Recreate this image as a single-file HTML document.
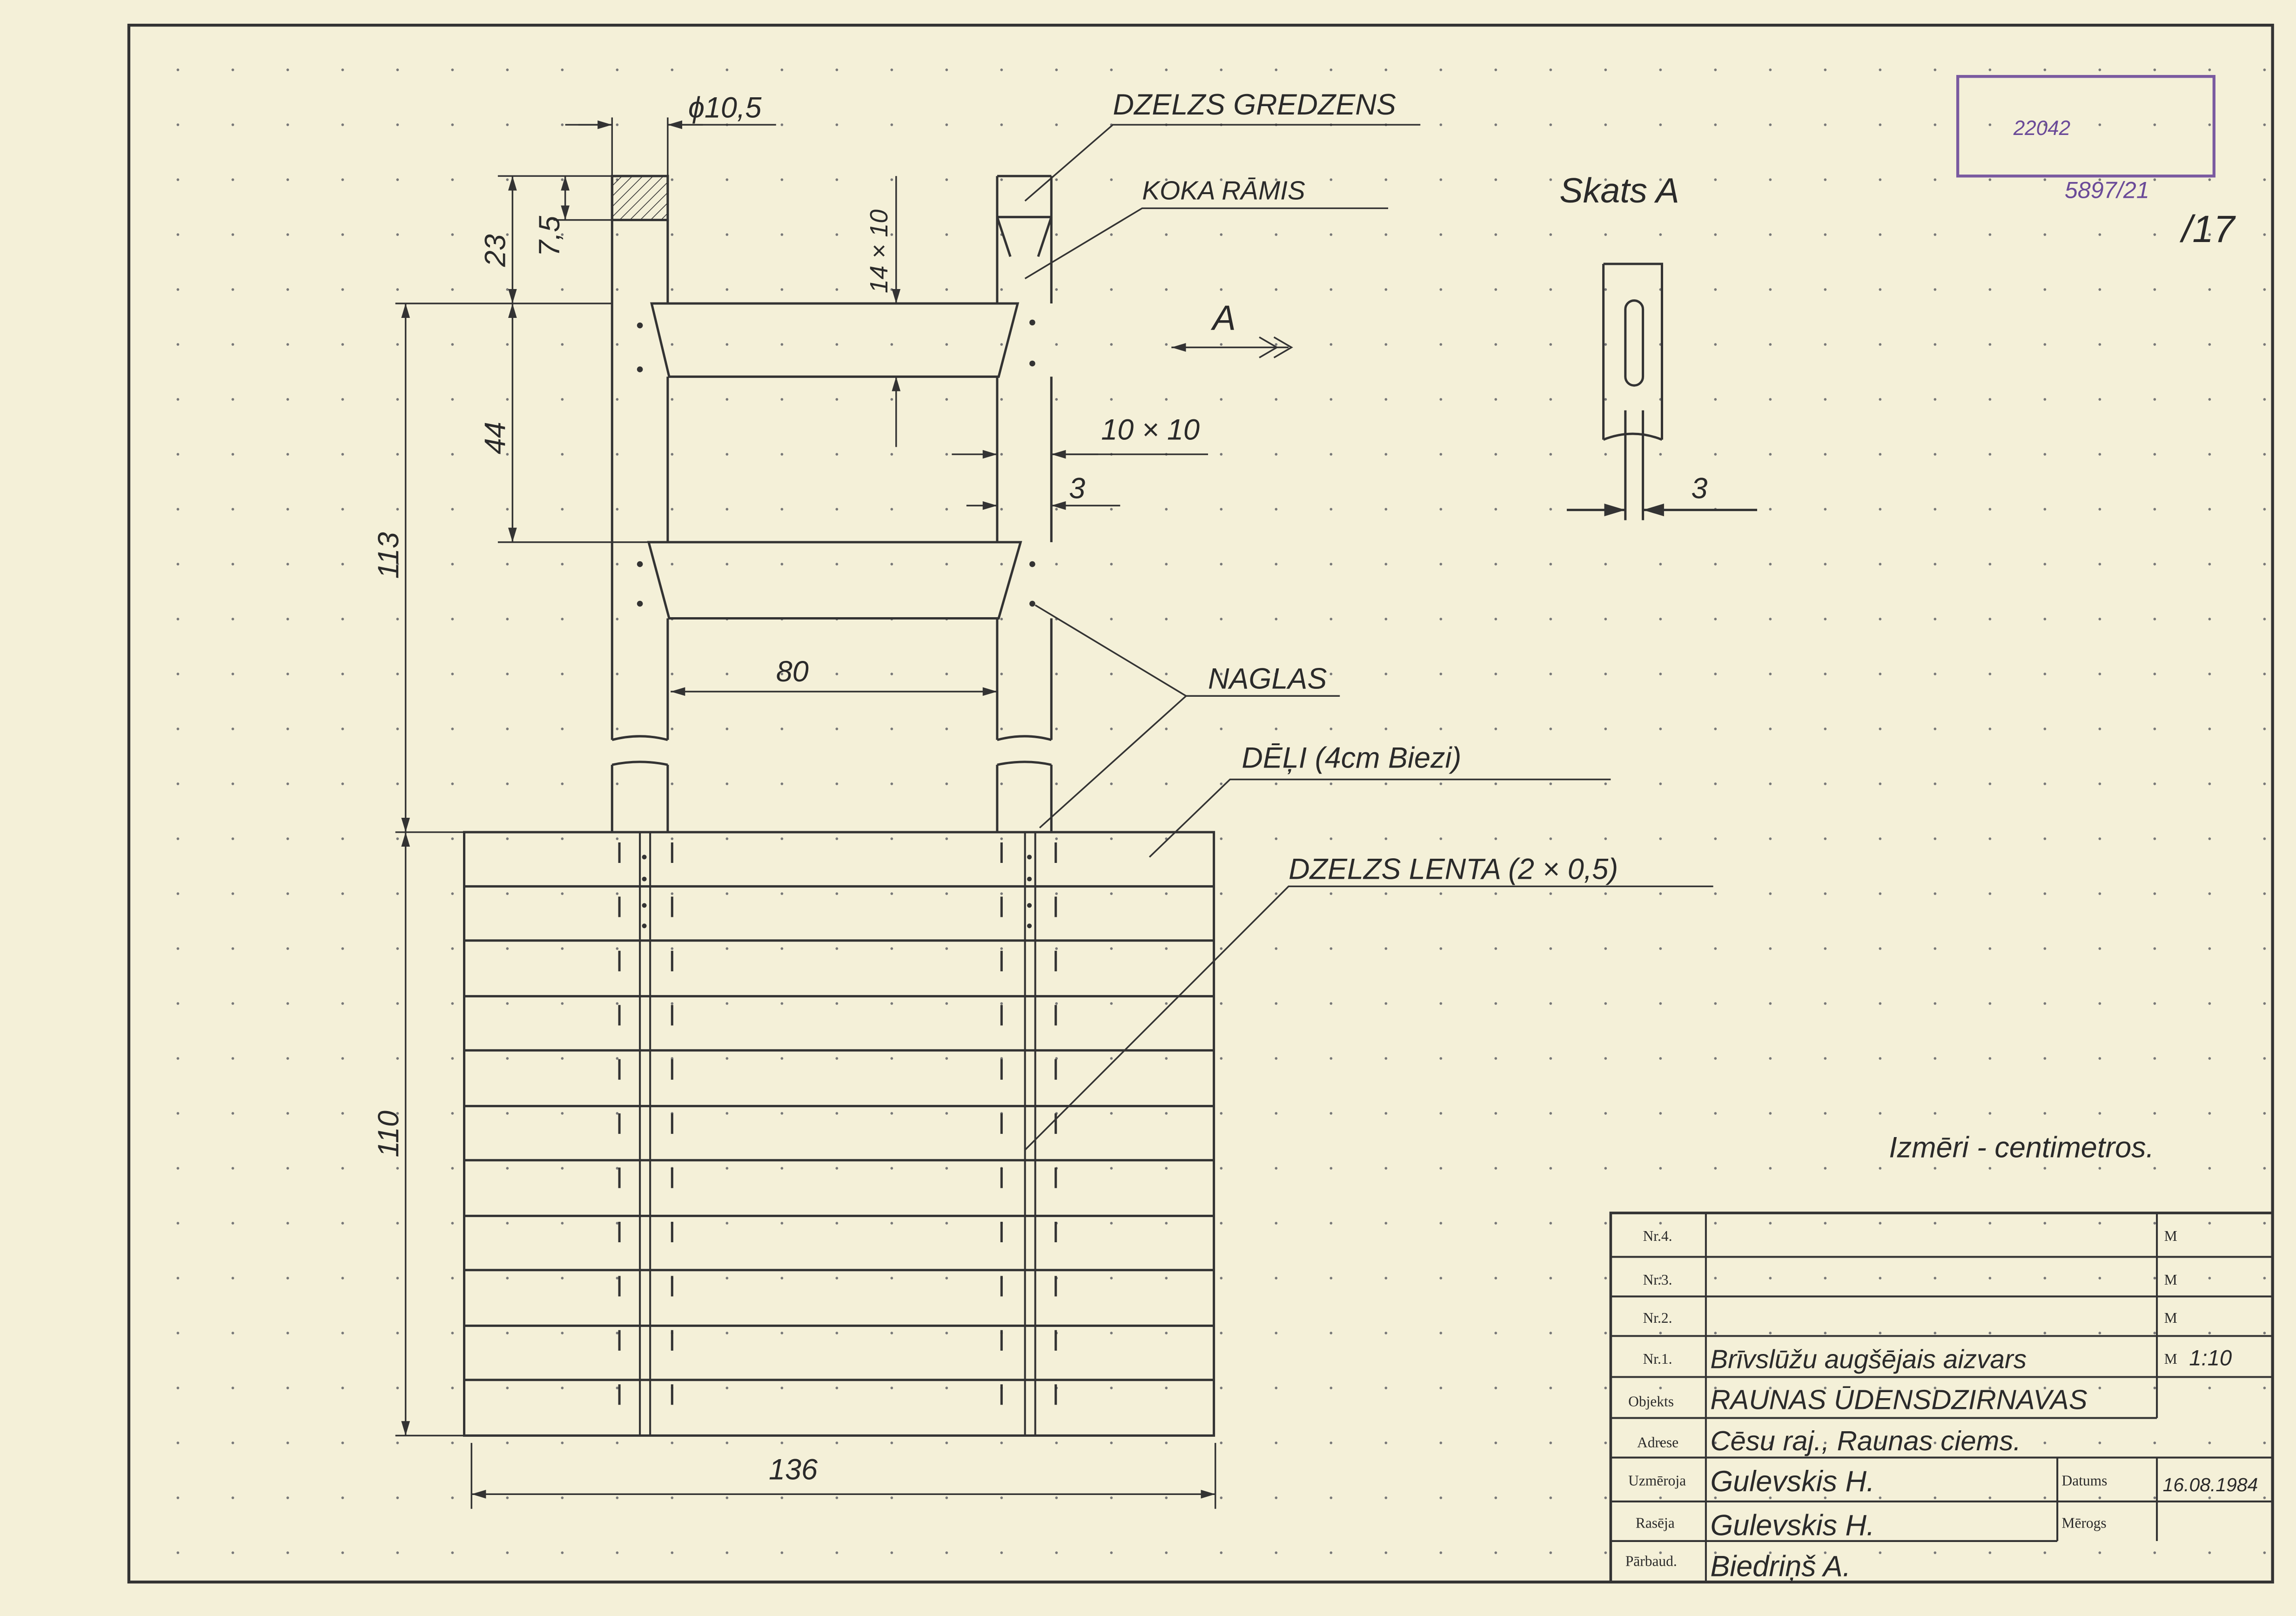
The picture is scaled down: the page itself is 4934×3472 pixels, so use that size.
<!DOCTYPE html>
<html><head><meta charset="utf-8"><style>
html,body{margin:0;padding:0;background:#f4f0d8}
svg{display:block}
text{font-family:"Liberation Sans",sans-serif;fill:#2a2a2a}
.h{font-style:italic;font-size:20px}
.t{font-family:"Liberation Serif",serif;font-size:10px}
</style></head><body>
<svg width="4934" height="3472" viewBox="0 0 1568 1103" xmlns="http://www.w3.org/2000/svg">
<defs>
<pattern id="dots" x="-9" y="-8" width="37.5" height="37.5" patternUnits="userSpaceOnUse">
<circle cx="18" cy="18" r="0.9" fill="#777"/></pattern>
<pattern id="hatch" width="5" height="5" patternUnits="userSpaceOnUse" patternTransform="rotate(45)">
<line x1="0" y1="0" x2="0" y2="5" stroke="#333" stroke-width="1"/></pattern>
<marker id="a" viewBox="0 0 10 10" refX="10" refY="5" markerWidth="9" markerHeight="9" orient="auto-start-reverse"><path d="M0,2 L10,5 L0,8 z" fill="#333"/></marker>
</defs>
<rect width="1568" height="1103" fill="#f4f0d8"/>
<rect x="88" y="17" width="1464" height="1063" fill="url(#dots)"/>
<rect x="88" y="17" width="1464" height="1063" fill="none" stroke="#333" stroke-width="2"/>
<g stroke="#333" stroke-width="1.6" fill="none">
<path d="M418,120 V505 M456,150 V207 M456,257 V370 M456,422 V505 M418,522 V568 M456,522 V568"/>
<path d="M681,120 V207 M718,120 V207 M681,257 V370 M718,257 V370 M681,422 V505 M718,422 V505 M681,522 V568 M718,522 V568"/>
<path d="M418,505 Q437,500 456,505 M418,522 Q437,518 456,522 M681,505 Q700,500 718,505 M681,522 Q700,518 718,522"/>
<rect x="418" y="120" width="38" height="30" fill="url(#hatch)"/>
<path d="M681,120 H718 M681,148 H718 M681,148 L690,175 M718,148 L709,175"/>
<path d="M445,207 H695 L682,257 H457 Z"/>
<path d="M443,370 H697 L682,422 H457 Z"/>
<rect x="317" y="568" width="512" height="412"/>
<path d="M317,605H829M317,642H829M317,680H829M317,717H829M317,755H829M317,792H829M317,830H829M317,867H829M317,905H829M317,942H829"/>
<path d="M437,568V980M444,568V980M700,568V980M707,568V980" stroke-width="1.3"/>
<path d="M423,575V980M459,575V980M684,575V980M721,575V980" stroke-dasharray="14,23"/>
<g stroke-width="1.1">
<path d="M270,207H418 M270,568H317 M270,980H317 M340,120H418 M340,370H443 M378,150H418"/>
<path d="M277,207V568" marker-start="url(#a)" marker-end="url(#a)"/>
<path d="M277,568V980" marker-start="url(#a)" marker-end="url(#a)"/>
<path d="M350,120V207" marker-start="url(#a)" marker-end="url(#a)"/>
<path d="M350,207V370" marker-start="url(#a)" marker-end="url(#a)"/>
<path d="M386,120V150" marker-start="url(#a)" marker-end="url(#a)"/>
<path d="M612,120V207" marker-end="url(#a)"/><path d="M612,305V257" marker-end="url(#a)"/>
<path d="M458,472H681" marker-start="url(#a)" marker-end="url(#a)"/>
<path d="M322,1020H830" marker-start="url(#a)" marker-end="url(#a)"/>
<path d="M322,985V1030M830,985V1030"/>
<path d="M386,85H418M456,85H530M418,80V120M456,80V120" /><path d="M395,85H418" marker-end="url(#a)"/><path d="M480,85H456" marker-end="url(#a)"/>
<path d="M650,310H681" marker-end="url(#a)"/><path d="M750,310H718" marker-end="url(#a)"/><path d="M718,310H825"/>
<path d="M660,345H681" marker-end="url(#a)"/><path d="M740,345H718" marker-end="url(#a)"/><path d="M718,345H765"/>
<path d="M681,300V360M718,300V360"/>
<path d="M880,237H800" marker-end="url(#a)"/><path d="M860,230L872,237L860,244M870,230L882,237L870,244"/>
<path d="M700,137L760,85H970 M700,190L780,142H948 M707,413L810,475H915 M710,565L810,475 M785,585L840,532H1100 M700,785L880,605H1170"/>
</g>
<path d="M1095,180H1135V300 M1095,180V300 M1095,300Q1115,292 1135,300"/>
<rect x="1110" y="205" width="12" height="58" rx="6"/>
<path d="M1110,280V355M1122,280V355"/>
<path d="M1070,348H1110" marker-end="url(#a)"/><path d="M1200,348H1122" marker-end="url(#a)"/>
<rect x="1100" y="828" width="452" height="252" stroke-width="1.8"/>
<path d="M1100,858H1552M1100,885H1552M1100,912H1552M1100,940H1552M1100,968H1473M1100,995H1552M1100,1025H1552M1100,1052H1405" stroke-width="1.3"/>
<path d="M1165,828V1080M1473,828V968M1405,995V1052M1473,995V1052" stroke-width="1.3"/>
<rect x="1337" y="52" width="175" height="68" stroke="#7a5aa0" stroke-width="2"/>
</g>
<g fill="#333"><circle cx="437" cy="222" r="2"/><circle cx="437" cy="252" r="2"/><circle cx="437" cy="385" r="2"/><circle cx="437" cy="412" r="2"/><circle cx="705" cy="220" r="2"/><circle cx="705" cy="248" r="2"/><circle cx="705" cy="385" r="2"/><circle cx="705" cy="412" r="2"/>
<circle cx="440" cy="585" r="1.6"/><circle cx="440" cy="600" r="1.6"/><circle cx="440" cy="618" r="1.6"/><circle cx="440" cy="632" r="1.6"/><circle cx="703" cy="585" r="1.6"/><circle cx="703" cy="600" r="1.6"/><circle cx="703" cy="618" r="1.6"/><circle cx="703" cy="632" r="1.6"/></g>
<text class="h" x="470" y="80">ϕ10,5</text>
<text class="h" x="760" y="78">DZELZS GREDZENS</text>
<text class="h" x="780" y="136" style="font-size:18px">KOKA RĀMIS</text>
<text class="h" x="1065" y="138" style="font-size:24px">Skats A</text>
<text class="h" x="828" y="225" style="font-size:24px">A</text>
<text class="h" x="752" y="300">10 × 10</text>
<text class="h" x="730" y="340">3</text>
<text class="h" x="1155" y="340">3</text>
<text class="h" x="530" y="465">80</text>
<text class="h" x="825" y="470">NAGLAS</text>
<text class="h" x="848" y="524">DĒĻI (4cm Biezi)</text>
<text class="h" x="880" y="600">DZELZS LENTA (2 × 0,5)</text>
<text class="h" x="525" y="1010">136</text>
<text class="h" x="1290" y="790">Izmēri - centimetros.</text>
<text class="h" transform="translate(272,395) rotate(-90)">113</text>
<text class="h" transform="translate(272,790) rotate(-90)">110</text>
<text class="h" transform="translate(345,310) rotate(-90)">44</text>
<text class="h" transform="translate(345,182) rotate(-90)">23</text>
<text class="h" transform="translate(382,175) rotate(-90)">7,5</text>
<text class="h" style="font-size:17px" transform="translate(606,200) rotate(-90)">14 × 10</text>
<text class="t" x="1122" y="847">Nr.4.</text><text class="t" x="1122" y="877">Nr.3.</text><text class="t" x="1122" y="903">Nr.2.</text><text class="t" x="1122" y="931">Nr.1.</text>
<text class="t" x="1112" y="960">Objekts</text><text class="t" x="1118" y="988">Adrese</text><text class="t" x="1112" y="1014">Uzmēroja</text><text class="t" x="1117" y="1043">Rasēja</text><text class="t" x="1110" y="1069">Pārbaud.</text>
<text class="t" x="1478" y="847">M</text><text class="t" x="1478" y="877">M</text><text class="t" x="1478" y="903">M</text><text class="t" x="1478" y="931">M</text>
<text class="t" x="1408" y="1014">Datums</text><text class="t" x="1408" y="1043">Mērogs</text>
<text class="h" x="1168" y="934" style="font-size:18px">Brīvslūžu augšējais aizvars</text>
<text class="h" x="1495" y="932" style="font-size:15px">1:10</text>
<text class="h" x="1168" y="962" style="font-size:19px">RAUNAS ŪDENSDZIRNAVAS</text>
<text class="h" x="1168" y="990" style="font-size:19px">Cēsu raj., Raunas ciems.</text>
<text class="h" x="1168" y="1018">Gulevskis H.</text>
<text class="h" x="1168" y="1048">Gulevskis H.</text>
<text class="h" x="1168" y="1076">Biedriņš A.</text>
<text class="h" x="1477" y="1018" style="font-size:13px">16.08.1984</text>
<text x="1375" y="92" style="font-size:14px;fill:#6a4a98" font-style="italic">22042</text>
<text x="1410" y="135" style="font-size:16px;fill:#6a4a98" font-style="italic">5897/21</text>
<text x="1490" y="165" style="font-size:26px" font-style="italic">/17</text>
</svg>
</body></html>
